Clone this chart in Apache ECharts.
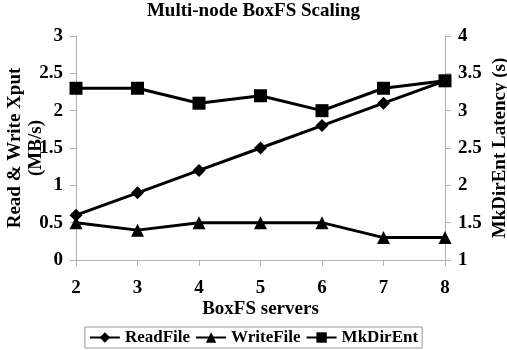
<!DOCTYPE html>
<html>
<head>
<meta charset="utf-8">
<script src="https://cdn.jsdelivr.net/npm/echarts@6/dist/echarts.min.js"></script>
<style>html,body{margin:0;padding:0;background:#fff}#c{width:507px;height:350px}</style>
</head>
<body>
<div id="c"></div>
<script>
var categories = ['2','3','4','5','6','7','8'];
var readFile = [0.6, 0.9, 1.2, 1.5, 1.8, 2.1, 2.4];
var writeFile = [0.5, 0.4, 0.5, 0.5, 0.5, 0.3, 0.3];
var mkDirEnt = [3.3, 3.3, 3.1, 3.2, 3.0, 3.3, 3.4];

var FONT = '"Liberation Serif", "Times New Roman", serif';
var chart = echarts.init(document.getElementById('c'));
var axisGrey = '#b0b0b0';
chart.setOption({
  animation: false,
  textStyle: {fontFamily: FONT},
  title: {
    text: 'Multi-node BoxFS Scaling', left: 'center', top: -3,
    textStyle: {fontFamily: FONT, fontWeight: 'bold', fontSize: 19, color: '#000'}
  },
  grid: {left: 76, right: 62, top: 36, bottom: 90, outerBoundsMode: 'none', containLabel: false},
  legend: {
    bottom: 2, left: 'center',
    data: ['ReadFile', 'WriteFile', 'MkDirEnt'],
    borderColor: '#999', borderWidth: 1, padding: [2, 4],
    itemWidth: 30, itemHeight: 13, itemGap: 5,
    textStyle: {fontFamily: FONT, fontWeight: 'bold', fontSize: 17, color: '#000'}
  },
  xAxis: {
    type: 'category', data: categories, boundaryGap: false,
    name: 'BoxFS servers', nameLocation: 'middle', nameGap: 40, nameMoveOverlap: false,
    nameTextStyle: {fontFamily: FONT, fontWeight: 'bold', fontSize: 19, color: '#000'},
    axisLine: {lineStyle: {color: axisGrey}},
    axisTick: {show: true, length: 6, lineStyle: {color: axisGrey}},
    axisLabel: {fontFamily: FONT, fontWeight: 'bold', fontSize: 19, color: '#000', margin: 19}
  },
  yAxis: [{
    type: 'value', min: 0, max: 3, interval: 0.5,
    name: 'Read & Write Xput\n(MB/s)', nameLocation: 'middle', nameGap: 29, nameRotate: 90, nameMoveOverlap: false,
    nameTextStyle: {fontFamily: FONT, fontWeight: 'bold', fontSize: 19, color: '#000', lineHeight: 21},
    axisLine: {show: true, lineStyle: {color: axisGrey}},
    axisTick: {show: true, length: 6, lineStyle: {color: axisGrey}},
    splitLine: {show: false},
    axisLabel: {fontFamily: FONT, fontWeight: 'bold', fontSize: 19, color: '#000', margin: 13}
  }, {
    type: 'value', min: 1, max: 4, interval: 0.5,
    name: 'MkDirEnt Latency (s)', nameLocation: 'middle', nameGap: 46, nameRotate: 90, nameMoveOverlap: false,
    nameTextStyle: {fontFamily: FONT, fontWeight: 'bold', fontSize: 19, color: '#000'},
    axisLine: {show: true, lineStyle: {color: axisGrey}},
    axisTick: {show: true, length: 6, lineStyle: {color: axisGrey}},
    splitLine: {show: false},
    axisLabel: {fontFamily: FONT, fontWeight: 'bold', fontSize: 19, color: '#000', margin: 13}
  }],
  series: [{
    name: 'ReadFile', type: 'line', yAxisIndex: 0, data: readFile,
    symbol: 'diamond', symbolSize: 13,
    lineStyle: {color: '#000', width: 3}, itemStyle: {color: '#000'}
  }, {
    name: 'WriteFile', type: 'line', yAxisIndex: 0, data: writeFile,
    symbol: 'triangle', symbolSize: 13,
    lineStyle: {color: '#000', width: 3}, itemStyle: {color: '#000'}
  }, {
    name: 'MkDirEnt', type: 'line', yAxisIndex: 1, data: mkDirEnt,
    symbol: 'rect', symbolSize: 13,
    lineStyle: {color: '#000', width: 3}, itemStyle: {color: '#000'}
  }]
});
</script>
</body>
</html>
